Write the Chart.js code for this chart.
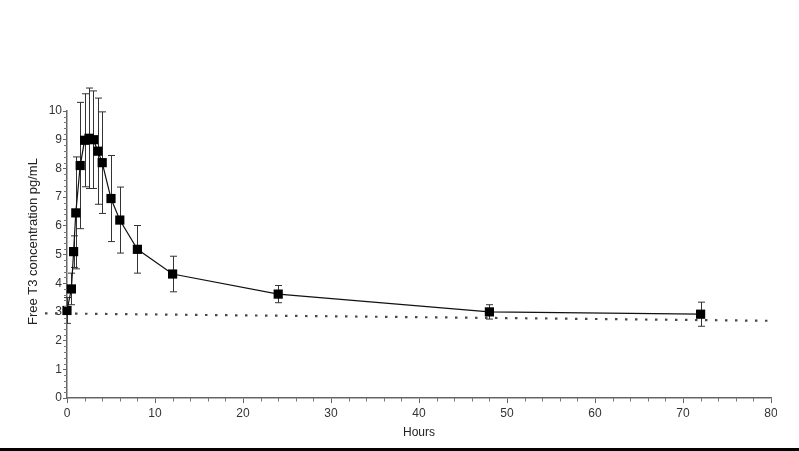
<!DOCTYPE html>
<html>
<head>
<meta charset="utf-8">
<script src="https://cdn.jsdelivr.net/npm/chart.js@4.4.1/dist/chart.umd.min.js"></script>
<style>
    html, body { margin: 0; padding: 0; background: #fff; overflow: hidden; }
    #quadro { position: relative; width: 799px; height: 451px; }
    #corte { position: absolute; left: 777px; top: 402px; width: 22px; height: 40px; background: #fff; }
    #faixa { position: absolute; left: 0; top: 448px; width: 799px; height: 3px; background: #000; }
</style>
</head>
<body>
<div id="quadro">
    <canvas id="grafico" width="799" height="451"></canvas>
    <div id="corte"></div>
    <div id="faixa"></div>
</div>
<script>
// Dados
const horas = [0, 0.5, 0.75, 1, 1.5, 2, 2.5, 3, 3.5, 4, 5, 6, 8, 12, 24, 48, 72];
const medias = [3.05, 3.8, 5.1, 6.45, 8.1, 8.98, 9.05, 9.0, 8.6, 8.2, 6.95, 6.2, 5.18, 4.32, 3.62, 3.0, 2.92];
const desvios = [0.45, 0.55, 0.55, 1.95, 2.2, 1.62, 1.75, 1.7, 1.85, 1.77, 1.5, 1.15, 0.83, 0.62, 0.3, 0.25, 0.42];

// Linha pontilhada de referência (começa um pouco antes do eixo)
const refHoras = [-2.5, 80];
const refValores = [2.95, 2.69];

const ticksX = [0, 10, 20, 30, 40, 50, 60, 70, 80];
const ticksY = [0, 1, 2, 3, 4, 5, 6, 7, 8, 9, 10];

const tituloY = 'Free T3 concentration pg/mL';
const fonte = "'Liberation Sans', Arial, sans-serif";

// Plugin que desenha as barras de erro (média ± desvio)
const barrasDeErro = {
    id: 'barrasDeErro',
    beforeDatasetsDraw(chart) {
        const { ctx, scales: { x, y } } = chart;
        ctx.save();
        ctx.strokeStyle = '#333';
        ctx.lineWidth = 1;
        horas.forEach((h, i) => {
            const px = Math.round(x.getPixelForValue(h)) + 0.5;
            const topo = y.getPixelForValue(medias[i] + desvios[i]);
            const base = y.getPixelForValue(medias[i] - desvios[i]);
            ctx.beginPath();
            ctx.moveTo(px, topo); ctx.lineTo(px, base);
            ctx.moveTo(px - 3.5, topo); ctx.lineTo(px + 3.5, topo);
            ctx.moveTo(px - 3.5, base); ctx.lineTo(px + 3.5, base);
            ctx.stroke();
        });
        ctx.restore();
    }
};

// Plugin para as marcas menores dos eixos e o título do eixo Y
const marcasMenores = {
    id: 'marcasMenores',
    afterDraw(chart) {
        const { ctx, scales: { x, y } } = chart;
        ctx.save();
        ctx.strokeStyle = '#777';
        ctx.lineWidth = 1;
        ctx.beginPath();
        for (let v = 2; v < 80; v += 2) {
            if (v % 10 === 0) continue;
            const px = Math.round(x.getPixelForValue(v)) + 0.5;
            ctx.moveTo(px, y.bottom); ctx.lineTo(px, y.bottom + 3.5);
        }
        for (let i = 1; i < 50; i++) {
            if (i % 5 === 0) continue;
            const py = Math.round(y.getPixelForValue(i / 5)) + 0.5;
            ctx.moveTo(x.left - 3, py); ctx.lineTo(x.left, py);
        }
        ctx.stroke();

        // título do eixo Y, um pouco acima do centro como no original
        ctx.translate(33, y.getPixelForValue(5.45));
        ctx.rotate(-Math.PI / 2);
        ctx.fillStyle = '#222';
        ctx.font = '13px ' + fonte;
        ctx.textAlign = 'center';
        ctx.textBaseline = 'middle';
        ctx.fillText(tituloY, 0, 0);
        ctx.restore();
    }
};

function configurarGrafico() {
    const ctx = document.getElementById('grafico').getContext('2d');
    new Chart(ctx, {
        type: 'scatter',
        data: {
            datasets: [{
                data: horas.map((h, i) => ({ x: h, y: medias[i] })),
                showLine: true,
                borderColor: '#111',
                borderWidth: 1.2,
                backgroundColor: '#000',
                pointStyle: 'rect',
                pointRadius: 6.5,
                pointBorderWidth: 0,
                clip: false,
                order: 0
            }, {
                data: refHoras.map((h, i) => ({ x: h, y: refValores[i] })),
                showLine: true,
                borderColor: '#4a4a4a',
                borderWidth: 2.2,
                borderDash: [2.5, 7.5],
                pointRadius: 0,
                clip: false,
                order: 1
            }]
        },
        options: {
            responsive: false,
            animation: false,
            devicePixelRatio: 1,
            layout: { padding: { left: 0, right: 28, top: 111, bottom: 5 } },
            plugins: { legend: { display: false }, tooltip: { enabled: false } },
            scales: {
                x: {
                    type: 'linear',
                    min: 0,
                    max: 80,
                    afterBuildTicks: s => { s.ticks = ticksX.map(v => ({ value: v })); },
                    afterFit: s => { s.height = 48; },
                    ticks: { color: '#333', font: { family: fonte, size: 12 }, padding: 3, maxRotation: 0 },
                    grid: { drawOnChartArea: false, color: '#666', tickLength: 5 },
                    border: { color: '#666', width: 1.5 },
                    title: {
                        display: true, text: 'Hours', color: '#222',
                        font: { family: fonte, size: 12 }, padding: { top: 0, bottom: 6 }
                    }
                },
                y: {
                    min: 0,
                    max: 10,
                    afterBuildTicks: s => { s.ticks = ticksY.map(v => ({ value: v })); },
                    afterFit: s => { s.width = 67; },
                    ticks: { color: '#333', font: { family: fonte, size: 12 }, padding: 1 },
                    grid: { drawOnChartArea: false, color: '#666', tickLength: 4 },
                    border: { color: '#666', width: 1.5 },
                    title: { display: false }
                }
            }
        },
        plugins: [barrasDeErro, marcasMenores]
    });
}

window.onload = function() {
    configurarGrafico();
};
</script>
</body>
</html>
